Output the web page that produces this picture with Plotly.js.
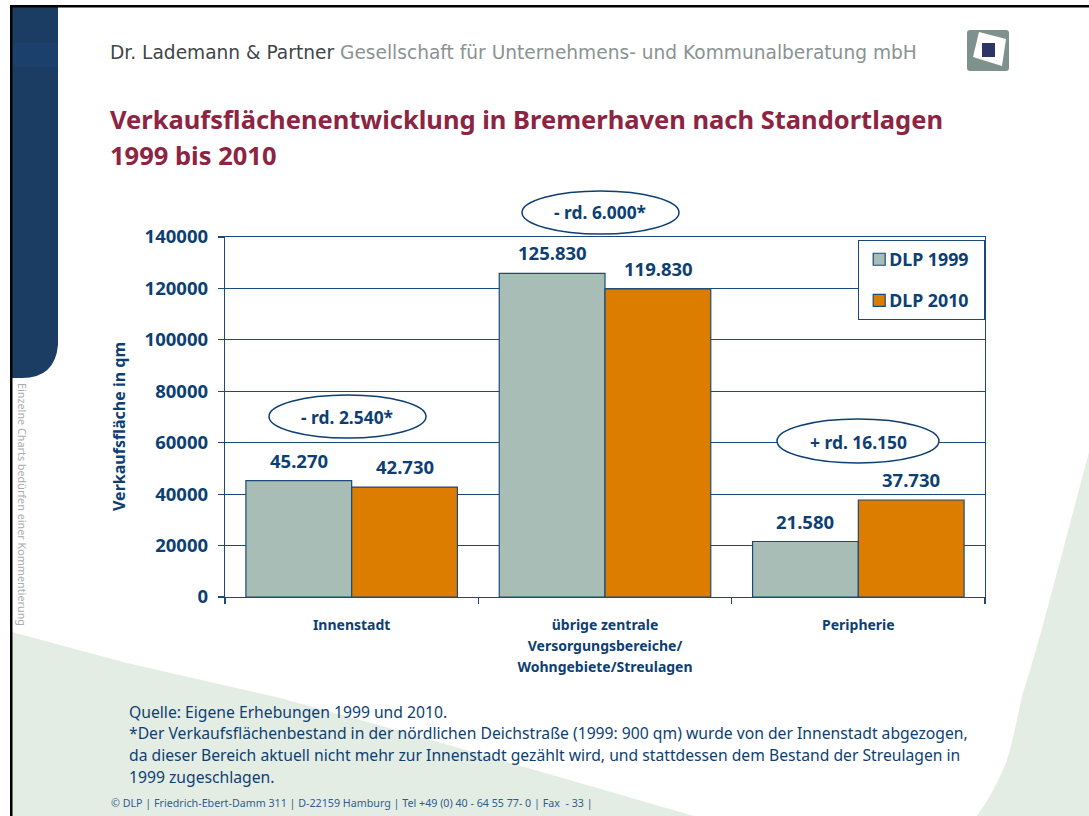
<!DOCTYPE html>
<html><head><meta charset="utf-8">
<script src="https://cdn.plot.ly/plotly-3.0.1.min.js"></script>
<style>html,body{margin:0;padding:0;background:#fff;overflow:hidden}#c{width:1089px;height:816px}</style>
</head><body><div id="c"></div>
<script>
const W = 1089, H = 816;
const categories = ["Innenstadt", "übrige zentrale<br>Versorgungsbereiche/<br>Wohngebiete/Streulagen", "Peripherie"];
const seriesNames = ["DLP 1999", "DLP 2010"];
const values1999 = [45270, 125830, 21580];
const values2010 = [42730, 119830, 37730];
const yTicks = [0, 20000, 40000, 60000, 80000, 100000, 120000, 140000];
const headerBold = "Dr. Lademann & Partner";
const headerRest = "Gesellschaft für Unternehmens- und Kommunalberatung mbH";
const titleLines = ["Verkaufsflächenentwicklung in Bremerhaven nach Standortlagen", "1999 bis 2010"];
const yTitle = "Verkaufsfläche in qm";
const changeLabels = ["- rd. 2.540*", "- rd. 6.000*", "+ rd. 16.150"];
const footnotes = [
 "Quelle: Eigene Erhebungen 1999 und 2010.",
 "*Der Verkaufsflächenbestand in der nördlichen Deichstraße (1999: 900 qm) wurde von der Innenstadt abgezogen,",
 "da dieser Bereich aktuell nicht mehr zur Innenstadt gezählt wird, und stattdessen dem Bestand der Streulagen in",
 "1999 zugeschlagen."
];
const footer = "© DLP | Friedrich-Ebert-Damm 311 | D-22159 Hamburg | Tel +49 (0) 40 - 64 55 77- 0 | Fax  - 33 |";
const sideNote = "Einzelne Charts bedürfen einer Kommentierung";

const NAVY = "#0d3f73", FONT = "'Noto Sans', sans-serif", LINE = "#1a4a7c";
const px = v => v / W, py = v => 1 - v / H;
const q = (x,y) => px(x)+","+py(y);
const path = (d, fill) => ({type:"path", xref:"paper", yref:"paper", path:d, fillcolor:fill, line:{width:0}, layer:"below"});
const rect = (x0,y0,x1,y1,fill) => ({type:"rect", xref:"paper", yref:"paper", x0:px(x0), x1:px(x1), y0:py(y0), y1:py(y1), fillcolor:fill, line:{width:0}, layer:"below"});
const ellipse = (x0,y0,x1,y1) => ({type:"circle", xref:"paper", yref:"paper", x0:px(x0), x1:px(x1), y0:py(y0), y1:py(y1), fillcolor:"#fff", line:{color:NAVY,width:1.5}, layer:"above"});

const shapes = [
 path(`M ${q(12,632)} L ${q(127,663)} L ${q(280,698)} L ${q(400,731)} L ${q(694,816)} L ${q(12,816)} Z`, "#e4ede4"),
 path(`M ${q(1089,452)} L ${q(1047,610)} Q ${q(1032,665)} ${q(1022,696)} Q ${q(1012,745)} ${q(1006,763)} Q ${q(995,790)} ${q(977,816)} L ${q(1089,816)} Z`, "#e4ede4"),
 path(`M ${q(12,7)} L ${q(58,7)} L ${q(58,345)} Q ${q(55,378)} ${q(22,378)} L ${q(12,378)} Z`, "#1b3d63"),
 rect(12,43,58,67,"#1c406c"),
 rect(10,5,1089,7.5,"#000"),
 rect(10,5,12.5,816,"#000"),
 path(`M ${q(970,30)} L ${q(1006,30)} Q ${q(1009,30)} ${q(1009,33)} L ${q(1009,68)} Q ${q(1009,71)} ${q(1006,71)} L ${q(970,71)} Q ${q(967,71)} ${q(967,68)} L ${q(967,33)} Q ${q(967,30)} ${q(970,30)} Z`, "#7f918c"),
 path(`M ${q(979,32)} L ${q(1006,39)} L ${q(1002,66)} L ${q(973,57)} Z`, "#ffffff"),
 rect(982,43,995,57,"#2d3566"),
 ellipse(269,395,426,438),
 ellipse(522,191,679,234),
 ellipse(777,419,939,463)
];

const ann = (x,y,text,size,color,opts) => Object.assign({xref:"paper",yref:"paper",x:px(x),y:py(y),text:text,showarrow:false,xanchor:"left",yanchor:"middle",align:"left",font:{family:FONT,size:size,color:color}},opts||{});
const annotations = [
 ann(108,53,`<span style="color:#3f4648">${headerBold}</span> <span style="color:#8b9292">${headerRest}</span>`,18.6,"#666",{font:{family:"'DejaVu Sans', sans-serif",size:18.6,color:"#666"}}),
 ann(108,119,`<b>${titleLines[0]}</b>`,25.5,"#8c2442"),
 ann(108,155,`<b>${titleLines[1]}</b>`,25.5,"#8c2442"),
 ann(347,417,`<b>${changeLabels[0]}</b>`,17.4,NAVY,{xanchor:"center"}),
 ann(600,212,`<b>${changeLabels[1]}</b>`,17.4,NAVY,{xanchor:"center"}),
 ann(858,442,`<b>${changeLabels[2]}</b>`,17.4,NAVY,{xanchor:"center"}),
 ann(127,712,footnotes[0],15.7,NAVY),
 ann(127,733,footnotes[1],15.7,NAVY),
 ann(127,755,footnotes[2],15.7,NAVY),
 ann(127,777,footnotes[3],15.7,NAVY),
 ann(109,803,footer,10.7,"#2f5d8c"),
 ann(23,504,sideNote,10.8,"#a9adab",{xanchor:"center",textangle:90}),
 ann(119,427,`<b>${yTitle}</b>`,16,NAVY,{xanchor:"center",textangle:-90})
];

const fmt = v => String(v).replace(/\B(?=(\d{3})+$)/g, ".");
[[values1999,-53],[values2010,53]].forEach(([vals,shift]) => vals.forEach((v,i) => annotations.push({
  xref:"x", yref:"y", x:categories[i], y:v, xshift:shift, yshift:6, yanchor:"bottom", xanchor:"center", showarrow:false,
  text:`<b>${fmt(v)}</b>`, font:{family:FONT,size:18.5,color:NAVY}
})));

const bar = (name,y,color) => ({type:"bar", name:name, x:categories, y:y, legendgroup:name,
  marker:{color:color, line:{color:LINE,width:1.2}}, hoverinfo:"skip"});
const data = [bar(seriesNames[0],values1999,"#a8bdb5"), bar(seriesNames[1],values2010,"#dc7d00")];
const tickText = categories.map(c => c.split("<br>").map(l => `<span style="font-size:14px">${l}</span>`).join("<br>"));

const layout = {
 width:W, height:H, margin:{l:0,r:0,t:0,b:0}, paper_bgcolor:"#fff", plot_bgcolor:"#fff",
 barmode:"group", bargap:0.165, bargroupgap:0, showlegend:true,
 font:{family:FONT,color:NAVY},
 xaxis:{domain:[px(225),px(985)], type:"category", tickmode:"array", tickvals:categories, ticktext:tickText,
   tickson:"boundaries", ticks:"outside", ticklen:6, tickcolor:LINE, tickwidth:1.2, showline:true, linecolor:LINE, linewidth:1.2, mirror:true,
   ticklabelstandoff:12, showgrid:false, zeroline:false, tickangle:0, tickfont:{family:FONT,size:16.2,color:NAVY,weight:700}, automargin:false},
 yaxis:{domain:[py(597),py(237)], range:[0,140000], tickvals:yTicks, tickmode:"array", tickformat:"d",
   ticks:"outside", ticklen:6, tickcolor:LINE, tickwidth:1.2, showline:true, linecolor:LINE, linewidth:1.2, mirror:true,
   ticklabelstandoff:6, showgrid:true, gridcolor:LINE, gridwidth:1.2, zeroline:false, tickfont:{family:FONT,size:18.5,color:NAVY,weight:700}, automargin:false},
 legend:{x:px(985), xanchor:"right", y:py(240), yanchor:"top", bgcolor:"#fff", bordercolor:LINE, borderwidth:1.2,
   font:{family:FONT,size:17.8,color:NAVY,weight:700}, tracegroupgap:15, itemclick:false, itemdoubleclick:false, traceorder:"grouped",
   entrywidth:79, entrywidthmode:"pixels"},
 shapes:shapes, annotations:annotations
};
Plotly.newPlot("c", data, layout, {displayModeBar:false, staticPlot:true}).then(gd => {
  gd.querySelectorAll(".legendtext").forEach(t => t.setAttribute("x", +t.getAttribute("x") - 10));
});
</script></body></html>
